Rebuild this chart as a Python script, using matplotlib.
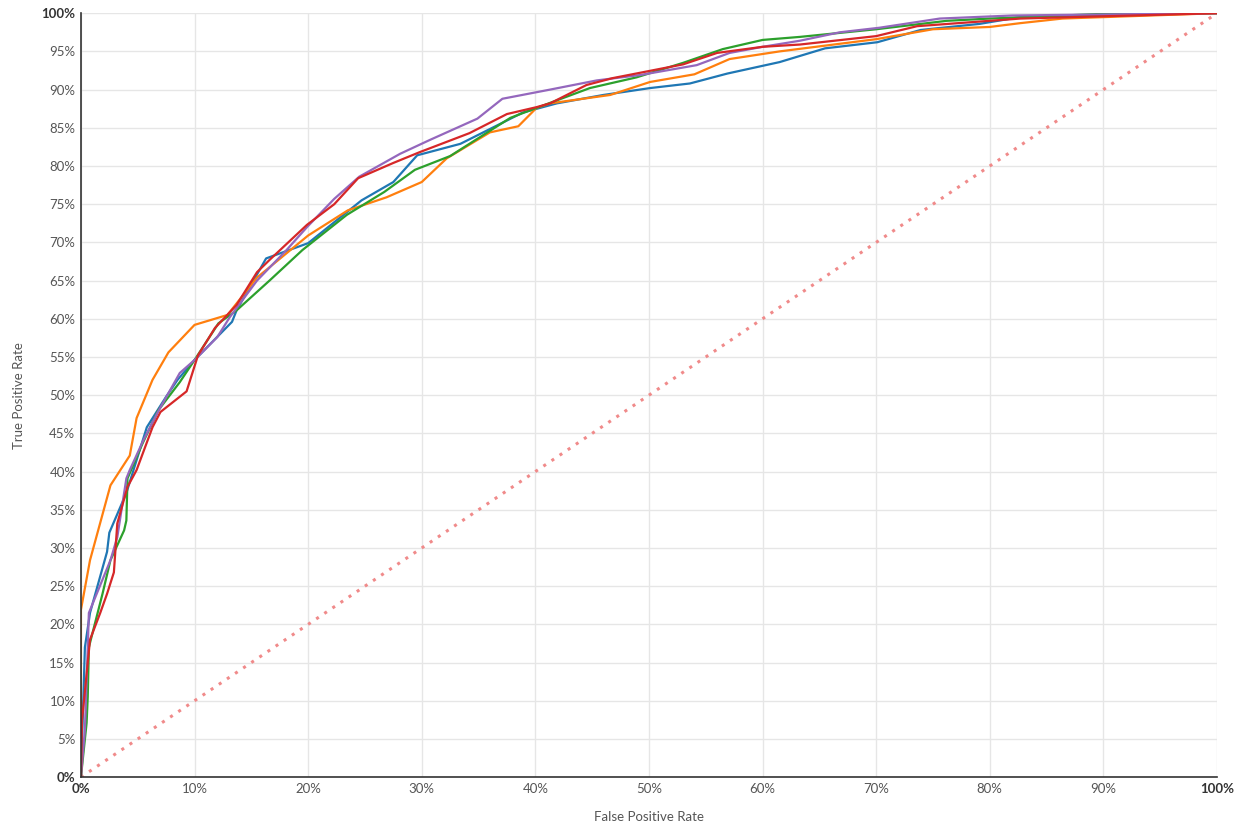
import numpy as np
import matplotlib.pyplot as plt
from matplotlib.ticker import FixedLocator

# ROC curves, values in percent (false positive rate, true positive rate)
blue_fpr = [0, 0.35, 0.8, 2.3, 2.5, 4.0, 5.8, 7.5, 8.5, 10.0, 13.3, 13.7, 16.3, 20.0, 24.7,
            27.5, 29.6, 33.4, 38.9, 41.9, 46.0, 50.1, 53.6, 56.9, 61.5, 65.5, 70.1, 73.9, 79.1, 82.7, 100]
blue_tpr = [0, 17.0, 21.5, 29.5, 32.0, 37.2, 45.8, 49.8, 52.0, 54.6, 59.6, 61.1, 67.9, 69.9, 75.5,
            77.9, 81.4, 82.9, 87.0, 88.2, 89.3, 90.2, 90.8, 92.1, 93.6, 95.4, 96.2, 97.8, 98.6, 99.5, 100]

orange_fpr = [0, 0, 0.8, 2.6, 4.3, 4.9, 6.3, 7.7, 10.0, 12.9, 15.5, 20.0, 23.5, 26.9, 30.0,
              32.2, 36.0, 38.5, 40.1, 41.3, 46.6, 50.1, 54.0, 57.1, 61.5, 70.0, 75.0, 80.0, 82.7, 86.4, 100]
orange_tpr = [0, 21.9, 28.4, 38.2, 42.1, 47.0, 52.0, 55.6, 59.2, 60.5, 65.4, 70.9, 74.2, 75.9, 77.9,
              81.0, 84.4, 85.2, 87.6, 88.2, 89.3, 91.0, 92.0, 94.0, 95.0, 96.6, 97.9, 98.2, 98.7, 99.3, 100]

green_fpr = [0, 0.5, 0.6, 0.7, 1.9, 2.6, 3.8, 4.0, 4.1, 5.4, 6.8, 8.7, 10.0, 12.1, 13.7, 16.6, 19.5,
             23.4, 26.7, 29.4, 32.5, 37.8, 40.1, 44.8, 48.9, 53.0, 56.5, 60.0, 63.3, 70.0, 76.2, 80.0, 89.7, 100]
green_tpr = [0, 7.1, 10.5, 17.0, 24.0, 28.4, 32.3, 33.6, 39.1, 43.6, 48.0, 51.7, 54.6, 59.4, 61.1, 65.0, 69.0,
             73.6, 76.6, 79.5, 81.3, 86.3, 87.6, 90.2, 91.6, 93.5, 95.3, 96.5, 96.9, 97.9, 99.0, 99.3, 99.9, 100]

red_fpr = [0, 0.1, 0.8, 1.7, 2.3, 2.9, 3.2, 4.1, 4.9, 6.3, 7.0, 9.3, 10.3, 11.8, 13.7, 15.5, 16.6,
           19.9, 22.3, 24.4, 27.5, 29.8, 34.2, 37.5, 40.1, 41.3, 44.5, 46.8, 53.0, 56.0, 60.0, 63.3,
           70.0, 73.6, 82.7, 100]
red_tpr = [0, 7.5, 18.0, 21.5, 24.0, 26.8, 33.2, 38.0, 40.2, 45.8, 47.8, 50.5, 55.2, 58.8, 61.8, 66.1, 67.7,
           72.3, 75.0, 78.4, 80.4, 81.8, 84.3, 86.8, 87.7, 88.2, 90.6, 91.5, 93.3, 94.8, 95.6, 95.9,
           97.0, 98.3, 99.3, 100]

purple_fpr = [0, 0.35, 0.6, 0.7, 2.6, 3.2, 4.0, 4.3, 5.5, 6.7, 8.7, 10.0, 12.0, 13.1, 15.5, 18.1,
              19.9, 22.3, 24.5, 28.1, 30.7, 34.9, 37.1, 41.3, 45.4, 49.2, 54.2, 57.1, 60.0, 63.3,
              66.8, 70.3, 75.6, 82.0, 100]
purple_tpr = [0, 6.2, 17.0, 21.5, 28.4, 31.4, 39.1, 40.2, 44.1, 47.6, 52.9, 54.6, 57.6, 60.2, 65.0, 69.0,
              72.0, 75.7, 78.6, 81.6, 83.4, 86.2, 88.8, 90.0, 91.2, 91.9, 93.2, 94.8, 95.6, 96.4,
              97.5, 98.1, 99.3, 99.7, 100]

x_ticks = list(range(0, 101, 10))
y_ticks = list(range(0, 101, 5))

plt.rcParams['font.family'] = ['Lato', 'DejaVu Sans']

fig = plt.figure(figsize=(12.45, 8.25), dpi=100)
ax = fig.add_axes([0.065, 0.058, 0.9125, 0.926])

ax.plot([0, 100], [0, 100], color='#f08a8a', linestyle=(0, (1, 2.2)), linewidth=2.2, zorder=1)

curves = [(blue_fpr, blue_tpr, '#1f77b4'), (orange_fpr, orange_tpr, '#ff7f0e'),
          (green_fpr, green_tpr, '#2ca02c'), (purple_fpr, purple_tpr, '#9467bd'),
          (red_fpr, red_tpr, '#d62728')]
for fpr, tpr, col in curves:
    ax.plot(fpr, tpr, color=col, linewidth=1.6, zorder=2)

ax.set_xlim(0, 100)
ax.set_ylim(0, 100)
ax.xaxis.set_major_locator(FixedLocator(x_ticks))
ax.yaxis.set_major_locator(FixedLocator(y_ticks))
ax.set_xticklabels([f'{v}%' for v in x_ticks])
ax.set_yticklabels([f'{v}%' for v in y_ticks])
ax.grid(True, color='#e6e6e6', linewidth=1.0)
ax.set_axisbelow(True)
ax.tick_params(length=0, labelsize=9.5, labelcolor='#555555', pad=4)
for lab in [ax.get_xticklabels()[0], ax.get_xticklabels()[-1],
            ax.get_yticklabels()[0], ax.get_yticklabels()[-1]]:
    lab.set_fontweight('bold')
    lab.set_color('#333333')

for s in ['top', 'right']:
    ax.spines[s].set_visible(False)
for s in ['left', 'bottom']:
    ax.spines[s].set_color('#333333')
    ax.spines[s].set_linewidth(1.2)

ax.set_xlabel('False Positive Rate', fontsize=9.5, color='#555555', labelpad=12)
ax.set_ylabel('True Positive Rate', fontsize=9.5, color='#555555', labelpad=12)

fig.savefig('out.png', dpi=100)
